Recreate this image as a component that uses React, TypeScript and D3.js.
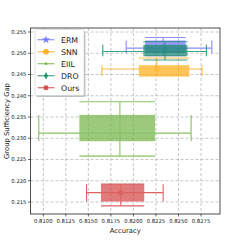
import { useEffect, useRef } from "react";
import * as d3 from "d3";

const methods = ["ERM", "SNN", "EIIL", "DRO", "Ours"];
const colors = ["#6f6fff", "#ffac10", "#6db33f", "#0f8a62", "#d43c3c"];
const symbolTypes = [d3.symbolStar, d3.symbolCircle, d3.symbolCircle, d3.symbolDiamond, d3.symbolSquare];
const symbolSizes = [22, 26, 6, 16, 20];

// centre (accuracy, gap)
const meanAcc = [0.8233, 0.8226, 0.8185, 0.8235, 0.8186];
const meanGap = [0.2512, 0.2463, 0.2312, 0.2504, 0.2172];
// box ranges
const boxAcc = [
  [0.8213, 0.8258],
  [0.8206, 0.8262],
  [0.814, 0.8224],
  [0.8211, 0.826],
  [0.8164, 0.8212],
];
const boxGap = [
  [0.25, 0.253],
  [0.24465, 0.2472],
  [0.2293, 0.2355],
  [0.2493, 0.252],
  [0.2151, 0.2192],
];
// whisker ranges
const errAcc = [
  [0.8192, 0.8287],
  [0.8165, 0.8276],
  [0.8095, 0.8264],
  [0.8166, 0.8281],
  [0.8148, 0.8233],
];
const errGap = [
  [0.2494, 0.2537],
  [0.24465, 0.2489],
  [0.2258, 0.2386],
  [0.2484, 0.2527],
  [0.2141, 0.2192],
];

const xTicks = [0.81, 0.8125, 0.815, 0.8175, 0.82, 0.8225, 0.825, 0.8275];
const yTicks = [0.215, 0.22, 0.225, 0.23, 0.235, 0.24, 0.245, 0.25, 0.255];

const App = () => {
  const svgRef = useRef(null);

  useEffect(() => {
    const svg = d3.select(svgRef.current);
    svg.selectAll("*").remove();

    const left = 30.5, right = 220, top = 28, bottom = 214;
    const x = d3.scaleLinear().domain([0.81, 0.8275]).range([43.3, 201]);
    const y = d3.scaleLinear().domain([0.215, 0.255]).range([202, 32]);

    // grid
    const grid = svg.append("g");
    xTicks.forEach((t) => {
      grid.append("line").attr("x1", x(t)).attr("x2", x(t)).attr("y1", top).attr("y2", bottom)
        .attr("stroke", "#b8b8b8").attr("stroke-width", 0.8).attr("stroke-dasharray", "3,2");
    });
    yTicks.forEach((t) => {
      grid.append("line").attr("x1", left).attr("x2", right).attr("y1", y(t)).attr("y2", y(t))
        .attr("stroke", "#b8b8b8").attr("stroke-width", 0.8).attr("stroke-dasharray", "3,2");
    });

    // marks
    methods.forEach((m, i) => {
      const g = svg.append("g").attr("opacity", 0.8);
      const c = colors[i];
      const [bx0, bx1] = boxAcc[i];
      const [by0, by1] = boxGap[i];
      g.append("rect")
        .attr("x", x(bx0)).attr("width", x(bx1) - x(bx0))
        .attr("y", y(by1)).attr("height", y(by0) - y(by1))
        .attr("fill", c).attr("fill-opacity", 0.85);
      const [ex0, ex1] = errAcc[i];
      const [ey0, ey1] = errGap[i];
      const line = (x1, y1, x2, y2) =>
        g.append("line").attr("x1", x1).attr("y1", y1).attr("x2", x2).attr("y2", y2)
          .attr("stroke", c).attr("stroke-width", 1.1);
      // horizontal whisker with caps spanning the box height
      line(x(ex0), y(meanGap[i]), x(ex1), y(meanGap[i]));
      line(x(ex0), y(by0), x(ex0), y(by1));
      line(x(ex1), y(by0), x(ex1), y(by1));
      // vertical whisker with caps spanning the box width
      line(x(meanAcc[i]), y(ey0), x(meanAcc[i]), y(ey1));
      line(x(bx0), y(ey0), x(bx1), y(ey0));
      line(x(bx0), y(ey1), x(bx1), y(ey1));
      g.append("path")
        .attr("d", d3.symbol().type(symbolTypes[i]).size(symbolSizes[i])())
        .attr("transform", `translate(${x(meanAcc[i])},${y(meanGap[i])})`)
        .attr("fill", c);
    });

    // frame
    svg.append("rect").attr("x", left).attr("y", top).attr("width", right - left).attr("height", bottom - top)
      .attr("fill", "none").attr("stroke", "#222").attr("stroke-width", 0.8);

    // ticks
    const font = "DejaVu Sans";
    xTicks.forEach((t) => {
      svg.append("line").attr("x1", x(t)).attr("x2", x(t)).attr("y1", bottom).attr("y2", bottom + 2.5)
        .attr("stroke", "#222").attr("stroke-width", 0.7);
      svg.append("text").attr("x", x(t)).attr("y", bottom + 9).attr("text-anchor", "middle")
        .attr("font-family", font).attr("font-size", 5.3).attr("fill", "#222").text(t.toFixed(4));
    });
    yTicks.forEach((t) => {
      svg.append("line").attr("x1", left - 2.5).attr("x2", left).attr("y1", y(t)).attr("y2", y(t))
        .attr("stroke", "#222").attr("stroke-width", 0.7);
      svg.append("text").attr("x", left - 4).attr("y", y(t) + 1.9).attr("text-anchor", "end")
        .attr("font-family", font).attr("font-size", 5.3).attr("fill", "#222").text(t.toFixed(3));
    });

    svg.append("text").attr("x", (left + right) / 2).attr("y", 233).attr("text-anchor", "middle")
      .attr("font-family", font).attr("font-size", 6.8).attr("fill", "#222").text("Accuracy");
    svg.append("text").attr("transform", `translate(8.5,${(top + bottom) / 2}) rotate(-90)`)
      .attr("text-anchor", "middle").attr("font-family", font).attr("font-size", 6.8).attr("fill", "#222")
      .text("Group Sufficiency Gap");

    // legend
    const lg = svg.append("g");
    lg.append("rect").attr("x", 36.5).attr("y", 31).attr("width", 49).attr("height", 66)
      .attr("rx", 1.5).attr("fill", "#999").attr("opacity", 0.6);
    lg.append("rect").attr("x", 35).attr("y", 29.5).attr("width", 49).attr("height", 66)
      .attr("rx", 1.5).attr("fill", "white").attr("stroke", "#ccc").attr("stroke-width", 0.6);
    methods.forEach((m, i) => {
      const ly = 39.7 + i * 12;
      lg.append("line").attr("x1", 37.5).attr("x2", 54.5).attr("y1", ly).attr("y2", ly)
        .attr("stroke", colors[i]).attr("stroke-width", 1.3).attr("opacity", 0.7);
      lg.append("path")
        .attr("d", d3.symbol().type(symbolTypes[i]).size(symbolSizes[i])())
        .attr("transform", `translate(46,${ly})`).attr("fill", colors[i]).attr("opacity", 0.85);
      lg.append("text").attr("x", 61).attr("y", ly + 2.8).attr("font-family", font)
        .attr("font-size", 7.8).attr("fill", "#222").text(m);
    });
  }, []);

  return (
    <div style={{ position: "absolute", left: 0, top: 0 }}>
      <svg ref={svgRef} width={245} height={245} style={{ display: "block", background: "white" }}></svg>
    </div>
  );
};

export default App;
